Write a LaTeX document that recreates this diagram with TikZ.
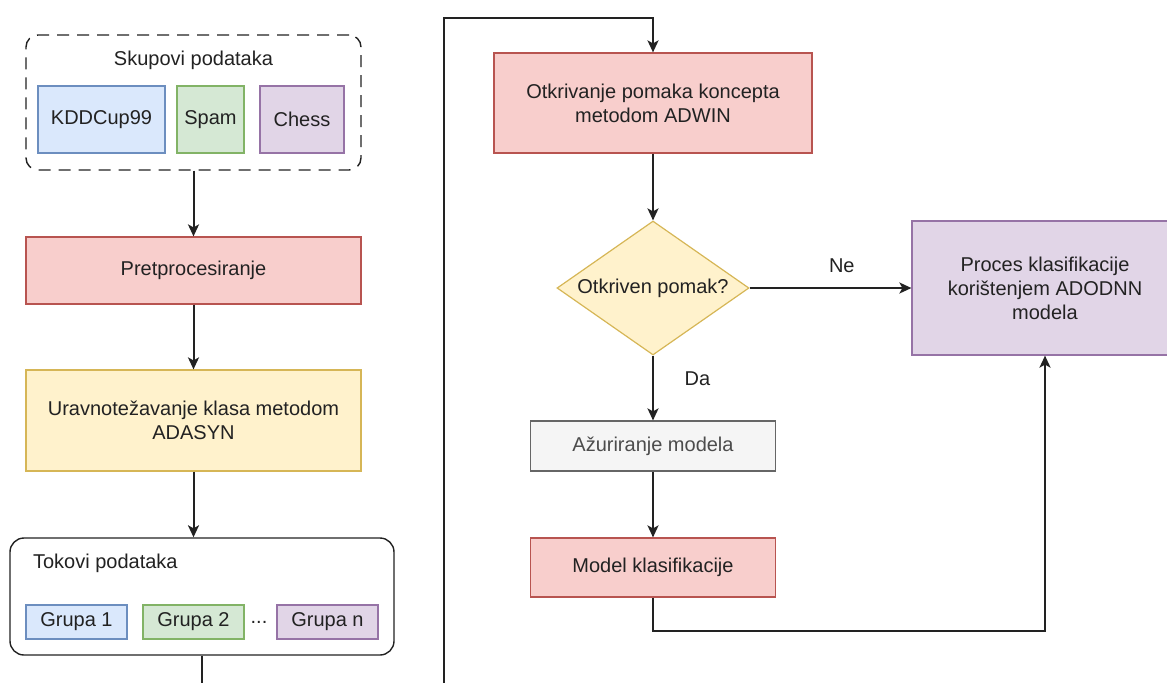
\documentclass[tikz,border=0pt]{standalone}
\usepackage{fontspec}
\setmainfont{Liberation Sans}
\usepackage{xcolor}
\usepackage{tikz}
\usetikzlibrary{shapes,arrows.meta,positioning,calc}

\definecolor{redF}{HTML}{F8CECC}    \definecolor{redD}{HTML}{B85450}
\definecolor{yellowF}{HTML}{FFF2CC} \definecolor{yellowD}{HTML}{D6B656}
\definecolor{blueF}{HTML}{DAE8FC}   \definecolor{blueD}{HTML}{6C8EBF}
\definecolor{greenF}{HTML}{D5E8D4}  \definecolor{greenD}{HTML}{82B366}
\definecolor{purpleF}{HTML}{E1D5E7} \definecolor{purpleD}{HTML}{9673A6}
\definecolor{grayF}{HTML}{F5F5F5}   \definecolor{grayD}{HTML}{666666}
\definecolor{inkc}{HTML}{222222}

\tikzset{
    box/.style={rectangle, line width=0.6pt, inner sep=2pt, align=center, text=inkc},
    redbox/.style={box, draw=redD, fill=redF},
    yellowbox/.style={box, draw=yellowD, fill=yellowF},
    bluebox/.style={box, draw=blueD, fill=blueF},
    greenbox/.style={box, draw=greenD, fill=greenF},
    purplebox/.style={box, draw=purpleD, fill=purpleF},
    graybox/.style={box, draw=grayD, fill=grayF, text=black!70},
    arr/.style={-{Stealth[length=6pt, width=5.5pt, inset=1.5pt]}, line width=1pt, draw=inkc}
}

\begin{document}
\begin{tikzpicture}[x=0.5pt, y=-0.5pt, font=\fontsize{10}{12}\selectfont]
    \useasboundingbox (0,0) rectangle (1167,682);
    \clip (0,0) rectangle (1167,682);

    % Datasets
    \node [draw=inkc, dash pattern=on 6pt off 4pt, rounded corners=6pt, line width=0.7pt,
           minimum width=167.5pt, minimum height=67.5pt] (skup) at (193.5,102.5) {};
    \node [text=inkc] (skuplab) at (193.5,60) {Skupovi podataka};
    \node [bluebox, minimum width=63.5pt, minimum height=33.5pt] (kdd) at (101.5,119.5) {KDDCup99};
    \node [greenbox, minimum width=33.5pt, minimum height=33.5pt] (spam) at (210.5,119.5) {Spam};
    \node [purplebox, minimum width=42pt, minimum height=33.5pt] (chess) at (302,119.5) {Chess};

    % Left column
    \node [redbox, minimum width=167.5pt, minimum height=33.5pt] (prep) at (193.5,270.5) {Pretprocesiranje};
    \node [yellowbox, minimum width=167.5pt, minimum height=50.5pt] (ada) at (193.5,420.5) {Uravnotežavanje klasa metodom\\ADASYN};

    % Data streams
    \node [draw=inkc, rounded corners=7pt, line width=0.7pt, fill=white,
           minimum width=192pt, minimum height=58.5pt] (tok) at (202,596.5) {};
    \node [text=inkc, anchor=west] (toklab) at (26,563) {Tokovi podataka};
    \node [bluebox, minimum width=50.5pt, minimum height=17pt] (g1) at (76.5,622) {Grupa 1};
    \node [greenbox, minimum width=50.5pt, minimum height=17pt] (g2) at (193.5,622) {Grupa 2};
    \node [text=inkc] (dots) at (259,622) {...};
    \node [purplebox, minimum width=50.5pt, minimum height=17pt] (gn) at (327.5,622) {Grupa n};

    % Right column
    \node [redbox, minimum width=159pt, minimum height=50pt] (otk) at (653,103) {Otkrivanje pomaka koncepta\\metodom ADWIN};
    \node [diamond, aspect=1.43, draw=yellowD, fill=yellowF, line width=0.6pt, inner sep=0pt, text=inkc,
           minimum width=96pt, minimum height=67pt] (dia) at (653,288) {Otkriven pomak?};
    \node [purplebox, minimum width=133pt, minimum height=67pt] (proc) at (1045,288) {Proces klasifikacije\\korištenjem ADODNN\\modela};
    \node [graybox, minimum width=122.5pt, minimum height=25pt] (azur) at (653,446) {Ažuriranje modela};
    \node [redbox, minimum width=122.5pt, minimum height=29.5pt] (model) at (653,567.5) {Model klasifikacije};

    % Connectors
    \draw [arr] (skup.south) -- (prep.north);
    \draw [arr] (prep.south) -- (ada.north);
    \draw [arr] (ada.south) -- (ada.south |- tok.north);
    \coordinate (bend) at (444,720);
    \coordinate (top) at (444,18);
    \draw [arr] (tok.south) |- (bend) -- (top) -| (otk.north);
    \draw [arr] (otk.south) -- (dia.north);
    \draw [arr] (dia.east) -- (proc.west) node [pos=0.57, above=4pt, text=inkc] {Ne};
    \draw [arr] (dia.south) -- (azur.north) node [pos=0.36, right=12pt, text=inkc] {Da};
    \draw [arr] (azur.south) -- (model.north);
    \draw [arr] (model.south) -- ++(0,33) -| (proc.south);
\end{tikzpicture}
\end{document}
